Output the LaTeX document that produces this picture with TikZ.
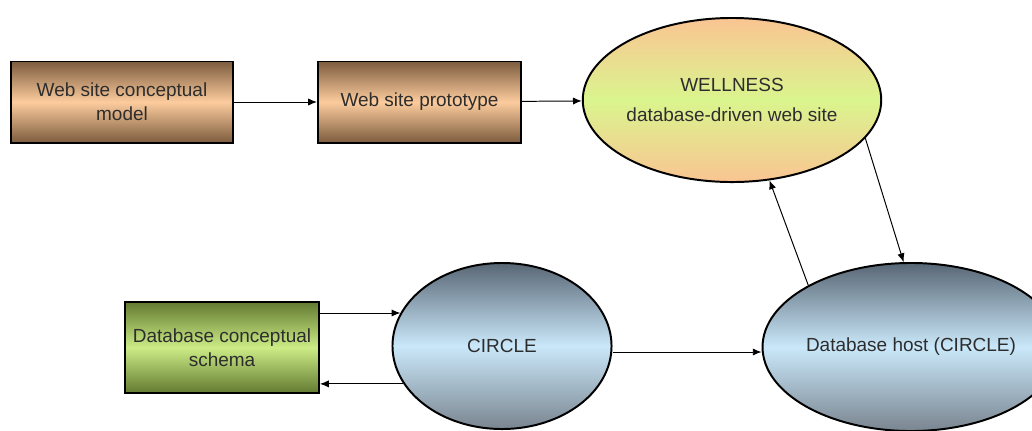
\documentclass[tikz,border=0pt]{standalone}
\usepackage{fontspec}
\setmainfont{Liberation Sans}
\usetikzlibrary{positioning}
\usetikzlibrary{arrows.meta}
\usetikzlibrary{shapes.geometric}

\definecolor{brownedge}{RGB}{125,92,62}
\definecolor{brownmid}{RGB}{252,204,158}
\definecolor{greenedge}{RGB}{98,122,48}
\definecolor{greenmid}{RGB}{204,236,134}
\definecolor{blueedge}{RGB}{88,102,116}
\definecolor{bluemid}{RGB}{202,232,250}
\definecolor{peach}{RGB}{250,196,146}
\definecolor{lime}{RGB}{218,245,142}
\definecolor{txt}{RGB}{45,45,45}

\begin{document}
\begin{tikzpicture}[x=0.025cm, y=-0.025cm, >={Latex[length=2.2mm,width=1.8mm]},
    every node/.style={font=\fontsize{13.5}{17}\selectfont, text=txt, align=center, inner sep=0pt},
    brownbox/.style={rectangle, draw=black, line width=1.4pt, top color=brownedge, bottom color=brownedge, middle color=brownmid},
    greenbox/.style={rectangle, draw=black, line width=1.4pt, top color=greenedge, bottom color=greenedge, middle color=greenmid},
    blueoval/.style={ellipse, draw=black, line width=1.4pt, top color=blueedge, bottom color=blueedge!80, middle color=bluemid},
    limeoval/.style={ellipse, draw=black, line width=1.4pt, top color=peach, bottom color=peach, middle color=lime},
    link/.style={->, line width=0.7pt, black}]
	\useasboundingbox (0,0) rectangle (1032,430);

	% upper row
	\node[brownbox, minimum width=5.55cm, minimum height=2.025cm] (webmodel) at (122,102) {Web site conceptual\\model};
	\node[brownbox, minimum width=5.075cm, minimum height=2.025cm] (webproto) at (419.5,102) {Web site prototype};
	\node[limeoval, minimum width=6.275cm, minimum height=4.1cm] (wellness) at (732,100) {WELLNESS\\[4pt]database-driven web site};

	% lower row
	\node[greenbox, minimum width=4.85cm, minimum height=2.275cm] (dbschema) at (222,347.5) {Database conceptual\\schema};
	\node[blueoval, minimum width=5.475cm, minimum height=4.15cm] (circle) at (502,346) {CIRCLE};
	\node[blueoval, minimum width=6.05cm, minimum height=4.2cm] (dbhost) at (911,347) {Database host (CIRCLE)};

	\draw[link] (webmodel) -- (webproto);
	\draw[link] (webproto) -- (wellness);
	\draw[link] (wellness.-16) -- (dbhost.95);
	\draw[link] (dbhost.149) -- (wellness.-65);

	\draw[link] (dbschema.east |- circle.162) -- (circle.162);
	\draw[link] (circle.201) -- (circle.201 -| dbschema.east);
	\draw[link] ([yshift=-0.15cm]circle.east) -- ([yshift=-0.15cm]circle.east -| dbhost.west);
\end{tikzpicture}
\end{document}
